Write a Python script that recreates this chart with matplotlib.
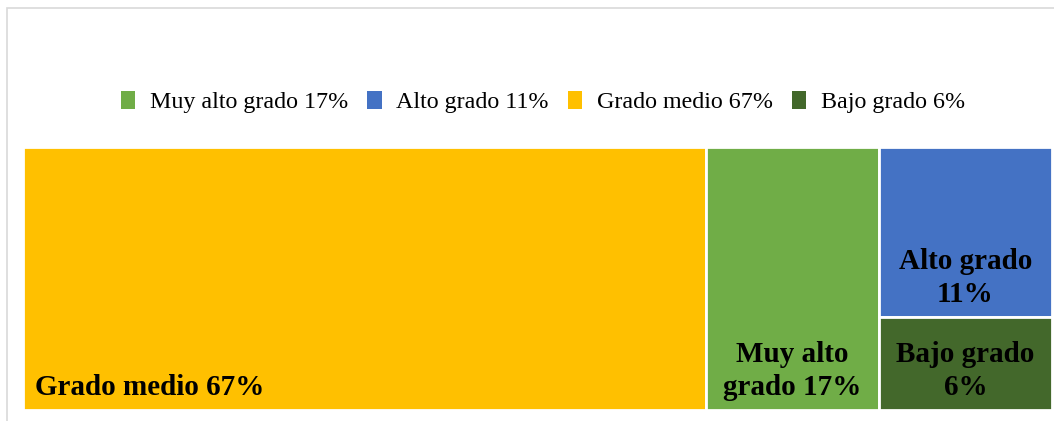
import matplotlib.pyplot as plt
from matplotlib.patches import Rectangle, Patch

# datos
categorias = ["Muy alto grado", "Alto grado", "Grado medio", "Bajo grado"]
valores = [17, 11, 67, 6]
colores = ["#70AD47", "#4472C4", "#FFC000", "#43682B"]
etiquetas = ["Muy alto\ngrado 17%", "Alto grado\n11%", "Grado medio 67%", "Bajo grado\n6%"]

plt.rcParams['font.family'] = ['Liberation Serif', 'DejaVu Serif']


def worst(fila, lado):
    s = sum(fila)
    return max(max(lado * lado * v / (s * s), s * s / (lado * lado * v)) for v in fila)


def squarify(vals, x, y, w, h):
    # vals ya escalados al area
    rects = []
    vals = list(vals)
    while vals:
        lado = min(w, h)
        fila = [vals.pop(0)]
        while vals and worst(fila + [vals[0]], lado) <= worst(fila, lado):
            fila.append(vals.pop(0))
        s = sum(fila)
        if w >= h:  # columna a la izquierda
            cw = s / h
            yy = y
            for v in fila:
                rh = v / cw
                rects.append((x, yy, cw, rh))
                yy += rh
            x += cw
            w -= cw
        else:  # fila arriba
            rh = s / w
            xx = x
            for v in fila:
                cw = v / rh
                rects.append((xx, y + h - rh, cw, rh))
                xx += cw
            h -= rh
    return rects


W, H = 1029.0, 263.0
orden = sorted(range(len(valores)), key=lambda i: -valores[i])
total = sum(valores)
areas = [valores[i] / total * W * H for i in orden]
rects = squarify(areas, 0, 0, W, H)

fig = plt.figure(figsize=(10.54, 4.21), dpi=100)
fig.patches.append(Rectangle((7 / 1054, -0.1), 1.2, (421 - 8) / 421 + 0.1,
                             transform=fig.transFigure, fill=False,
                             edgecolor="#D9D9D9", linewidth=1.2))

ax = fig.add_axes([23 / 1054, (421 - 410) / 421, W / 1054, H / 421])
ax.set_xlim(0, W)
ax.set_ylim(0, H)
ax.axis('off')

for k, i in enumerate(orden):
    rx, ry, rw, rh = rects[k]
    ax.add_patch(Rectangle((rx, ry), rw, rh, facecolor=colores[i],
                           edgecolor="white", linewidth=2))
    if k == 0:
        ax.text(rx + 12, ry + 9, etiquetas[i], ha='left', va='bottom',
                fontsize=21, fontweight='bold', color="black")
    else:
        ax.text(rx + rw / 2, ry + 9, etiquetas[i], ha='center', va='bottom',
                fontsize=21, fontweight='bold', color="black", linespacing=1.3)

handles = [Patch(facecolor=c, edgecolor='none') for c in colores]
labels = [f"{c} {v}%" for c, v in zip(categorias, valores)]
fig.legend(handles, labels, loc='center', bbox_to_anchor=(543 / 1054, 1 - 102 / 421),
           ncol=4, frameon=False, fontsize=17.3, handlelength=0.6, handleheight=0.8,
           handletextpad=0.6, columnspacing=0.8)

fig.savefig("out.png", dpi=100)
